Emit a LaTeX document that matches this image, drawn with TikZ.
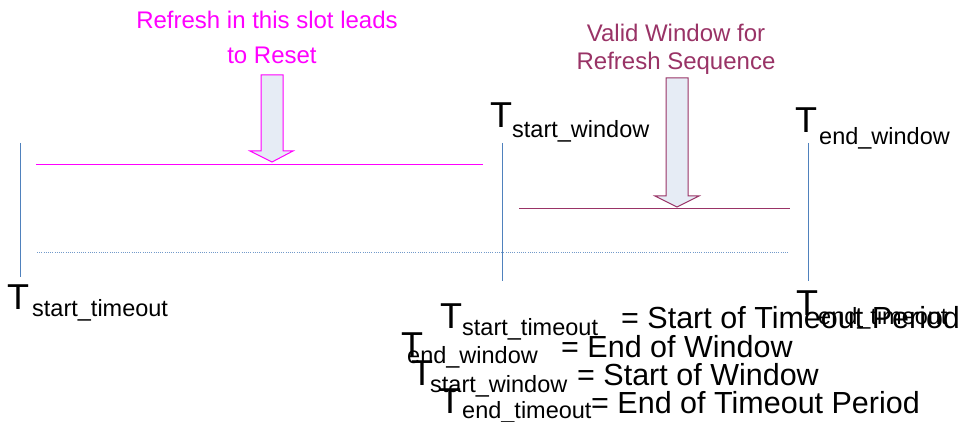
\documentclass[tikz,border=0pt]{standalone}
\usepackage{fontspec}
\setmainfont{Liberation Sans}
\definecolor{mag}{RGB}{255,0,255}
\definecolor{plum}{RGB}{153,51,102}
\definecolor{tickblue}{RGB}{79,129,189}
\definecolor{arrfill}{RGB}{230,236,245}
\begin{document}
\begin{tikzpicture}[x=1pt,y=-1pt,
  tick/.style={draw=tickblue,line width=1pt},
  dotline/.style={draw=tickblue!80,line width=1pt,dash pattern=on 1pt off 1.2pt},
  magline/.style={draw=mag,line width=1pt},
  plumline/.style={draw=plum,line width=1pt},
  magarrow/.style={draw=mag,fill=arrfill,line width=1pt,line join=miter},
  plumarrow/.style={draw=plum,fill=arrfill,line width=1pt,line join=miter},
  bigT/.style={inner sep=0,anchor=base west,font=\fontsize{36}{40}\selectfont},
  subtxt/.style={inner sep=0,anchor=base west,font=\fontsize{23.5}{28}\selectfont},
  eqtxt/.style={inner sep=0,anchor=base west,font=\fontsize{30.5}{36}\selectfont},
  note/.style={inner sep=0,anchor=base,font=\fontsize{24}{28}\selectfont}]
\useasboundingbox (0,0) rectangle (962,422);

% top notes
\node[note,text=mag] (n1a) at (267,29) {Refresh in this slot leads};
\node[note,text=mag] (n1b) at (272,64) {to Reset};
\node[note,text=plum] (n2a) at (676,42) {Valid Window for};
\node[note,text=plum] (n2b) at (676,70) {Refresh Sequence};

% block arrows
\draw[magarrow] (261,75) -- (283,75) -- (283,151) -- (293,151) -- (272,162) -- (250,151) -- (261,151) -- cycle;
\draw[plumarrow] (666,78) -- (688,78) -- (688,196) -- (699,196) -- (677,207) -- (655,196) -- (666,196) -- cycle;

% vertical ticks
\coordinate (v1t) at (20,143);  \coordinate (v1b) at (20,277);
\coordinate (v2t) at (502,143); \coordinate (v2b) at (502,281);
\coordinate (v3t) at (808,143); \coordinate (v3b) at (808,281);
\draw[tick] (v1t) -- (v1b);
\draw[tick] (v2t) -- (v2b);
\draw[tick] (v3t) -- (v3b);

% horizontal lines
\coordinate (m1) at (36,165);  \coordinate (m2) at (483,165);
\coordinate (p1) at (519,209); \coordinate (p2) at (790,209);
\coordinate (d1) at (37,253);  \coordinate (d2) at (788,253);
\draw[magline] (m1) -- (m2);
\draw[plumline] (p1) -- (p2);
\draw[dotline] (d1) -- (d2);

% time labels
\node[bigT] (tsw) at (490,128) {T};
\node[subtxt] (tsws) at (512,138) {start\_window};
\node[bigT] (tew) at (795,133) {T};
\node[subtxt] (tews) at (819,145) {end\_window};
\node[bigT] (tst) at (7,309) {T};
\node[subtxt] (tsts) at (32,317) {start\_timeout};
\node[bigT] (tet) at (796,316) {T};
\node[subtxt] (tets) at (818,325) {end\_timeout};

% legend
\node[bigT] (l1t) at (440,329) {T};
\node[subtxt] (l1s) at (462,336) {start\_timeout};
\node[eqtxt] (l1e) at (621,329) {= Start of Timeout Period};
\node[bigT] (l2t) at (401,357) {T};
\node[subtxt] (l2s) at (407,363) {end\_window};
\node[eqtxt] (l2e) at (561,357) {= End of Window};
\node[bigT] (l3t) at (411,385) {T};
\node[subtxt] (l3s) at (430,392) {start\_window};
\node[eqtxt] (l3e) at (577,385) {= Start of Window};
\node[bigT] (l4t) at (439,413) {T};
\node[subtxt] (l4s) at (462,418) {end\_timeout};
\node[eqtxt] (l4e) at (591,413) {= End of Timeout Period};
\end{tikzpicture}
\end{document}
